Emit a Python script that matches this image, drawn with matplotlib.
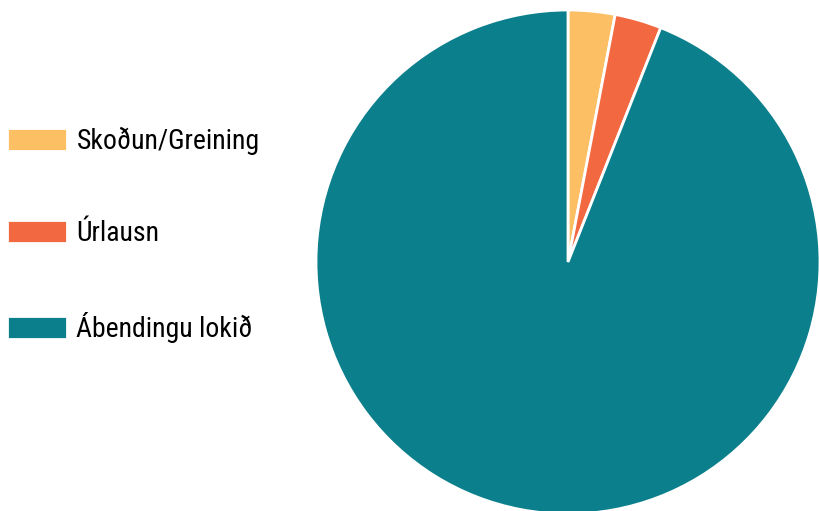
import matplotlib.pyplot as plt
from matplotlib import font_manager

labels = ['Skoðun/Greining', 'Úrlausn', 'Ábendingu lokið']
values = [3.0, 3.0, 94.0]
colors = ['#fcbf64', '#f26941', '#0b7f8c']

# pick a narrow face if one is installed
names = {f.name for f in font_manager.fontManager.ttflist}
fam = 'DejaVu Sans'
for cand in ['Liberation Sans Narrow', 'DejaVu Sans Condensed', 'Roboto Condensed',
             'Open Sans Condensed', 'Noto Sans Condensed', 'Liberation Sans']:
    if cand in names:
        fam = cand
        break
plt.rcParams['font.family'] = [fam, 'DejaVu Sans']

W, H = 819, 511
fig = plt.figure(figsize=(W / 100, H / 100), dpi=100)

cx, cy, r = 568, 262, 252
ax = fig.add_axes([(cx - r) / W, (H - cy - r) / H, 2 * r / W, 2 * r / H])
wedges, _ = ax.pie(values, colors=colors, startangle=90, counterclock=False,
                   wedgeprops=dict(edgecolor='white', linewidth=2))
ax.set_aspect('equal')
ax.set_xlim(-1, 1)
ax.set_ylim(-1, 1)

fig.legend(wedges, labels, loc='center left', bbox_to_anchor=(7 / W, (H - 235) / H),
           frameon=False, fontsize=20, handlelength=2.15, handleheight=0.9,
           handletextpad=0.35, labelspacing=2.35, borderaxespad=0, borderpad=0)

fig.savefig('out.png', dpi=100)
